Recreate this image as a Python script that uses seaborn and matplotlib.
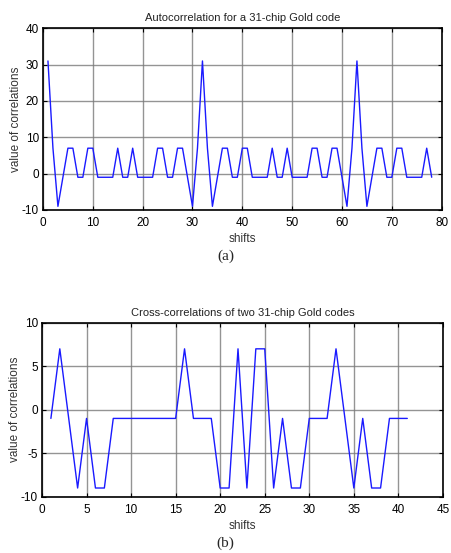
import numpy as np
import pandas as pd
import matplotlib
matplotlib.use("Agg")
import matplotlib.pyplot as plt
import seaborn as sns

# autocorrelation of a 31-chip Gold code, one period (shifts 1..31)
auto_period = [31, 7, -9, -1, 7, 7, -1, -1, 7, 7, -1, -1, -1, -1, 7, -1,
               -1, 7, -1, -1, -1, -1, 7, 7, -1, -1, 7, 7, -1, -9, 7]
auto_values = (auto_period * 3)[:78]
auto_shifts = list(range(1, 79))

# cross-correlation of two 31-chip Gold codes
cross_shifts = list(range(1, 42))
cross_values = [-1, 7, -1, -9, -1, -9, -9, -1, -1, -1, -1, -1, -1, -1, -1, 7,
                -1, -1, -1, -9, -9, 7, -9, 7, 7, -9, -1, -9, -9, -1, -1, -1,
                7, -1, -9, -1, -9, -9, -1, -1, -1]

auto_df = pd.DataFrame({"shifts": auto_shifts, "corr": auto_values})
cross_df = pd.DataFrame({"shifts": cross_shifts, "corr": cross_values})

sns.set_style("white")
plt.rcParams["font.family"] = ["Liberation Sans", "DejaVu Sans"]
plt.rcParams["axes.unicode_minus"] = False

fig = plt.figure(figsize=(4.51, 5.53), dpi=100)
ax1 = fig.add_axes([0.0953, 0.6203, 0.884, 0.3286])
ax2 = fig.add_axes([0.0931, 0.1018, 0.889, 0.3146])


def style(ax, xlim, xticks, ylim, yticks, title):
    ax.set_xlim(*xlim)
    ax.set_ylim(*ylim)
    ax.set_xticks(xticks)
    ax.set_yticks(yticks)
    ax.grid(True, color="#7a7a7a", lw=1.0, alpha=0.8)
    ax.set_axisbelow(True)
    ax.tick_params(direction="in", length=3, width=0.8, labelsize=8.5,
                   top=True, right=True, bottom=True, left=True,
                   colors="black")
    ax.tick_params(axis="x", pad=5)
    ax.tick_params(axis="y", pad=3)
    for s in ax.spines.values():
        s.set_visible(True)
        s.set_color("black")
        s.set_linewidth(1.2)
    ax.set_title(title, fontsize=8, color="#222222", pad=5)
    ax.set_xlabel("shifts", fontsize=8.5, color="#333333", labelpad=3)
    ax.set_ylabel("value of correlations", fontsize=8.5, color="#333333",
                  labelpad=0)


sns.lineplot(data=auto_df, x="shifts", y="corr", ax=ax1, color="#1a1aff",
             lw=1.0)
style(ax1, (0, 80), range(0, 81, 10), (-10, 40), range(-10, 41, 10),
      "Autocorrelation for a 31-chip Gold code")

sns.lineplot(data=cross_df, x="shifts", y="corr", ax=ax2, color="#1a1aff",
             lw=1.0)
style(ax2, (0, 45), range(0, 46, 5), (-10, 10), range(-10, 11, 5),
      "Cross-correlations of two 31-chip Gold codes")

fig.text(0.5, 1 - 256 / 553, "(a)", ha="center", va="center",
         fontsize=11, family="Liberation Serif")
fig.text(0.5, 1 - 543 / 553, "(b)", ha="center", va="center",
         fontsize=11, family="Liberation Serif")

fig.savefig("out.png", dpi=100)
